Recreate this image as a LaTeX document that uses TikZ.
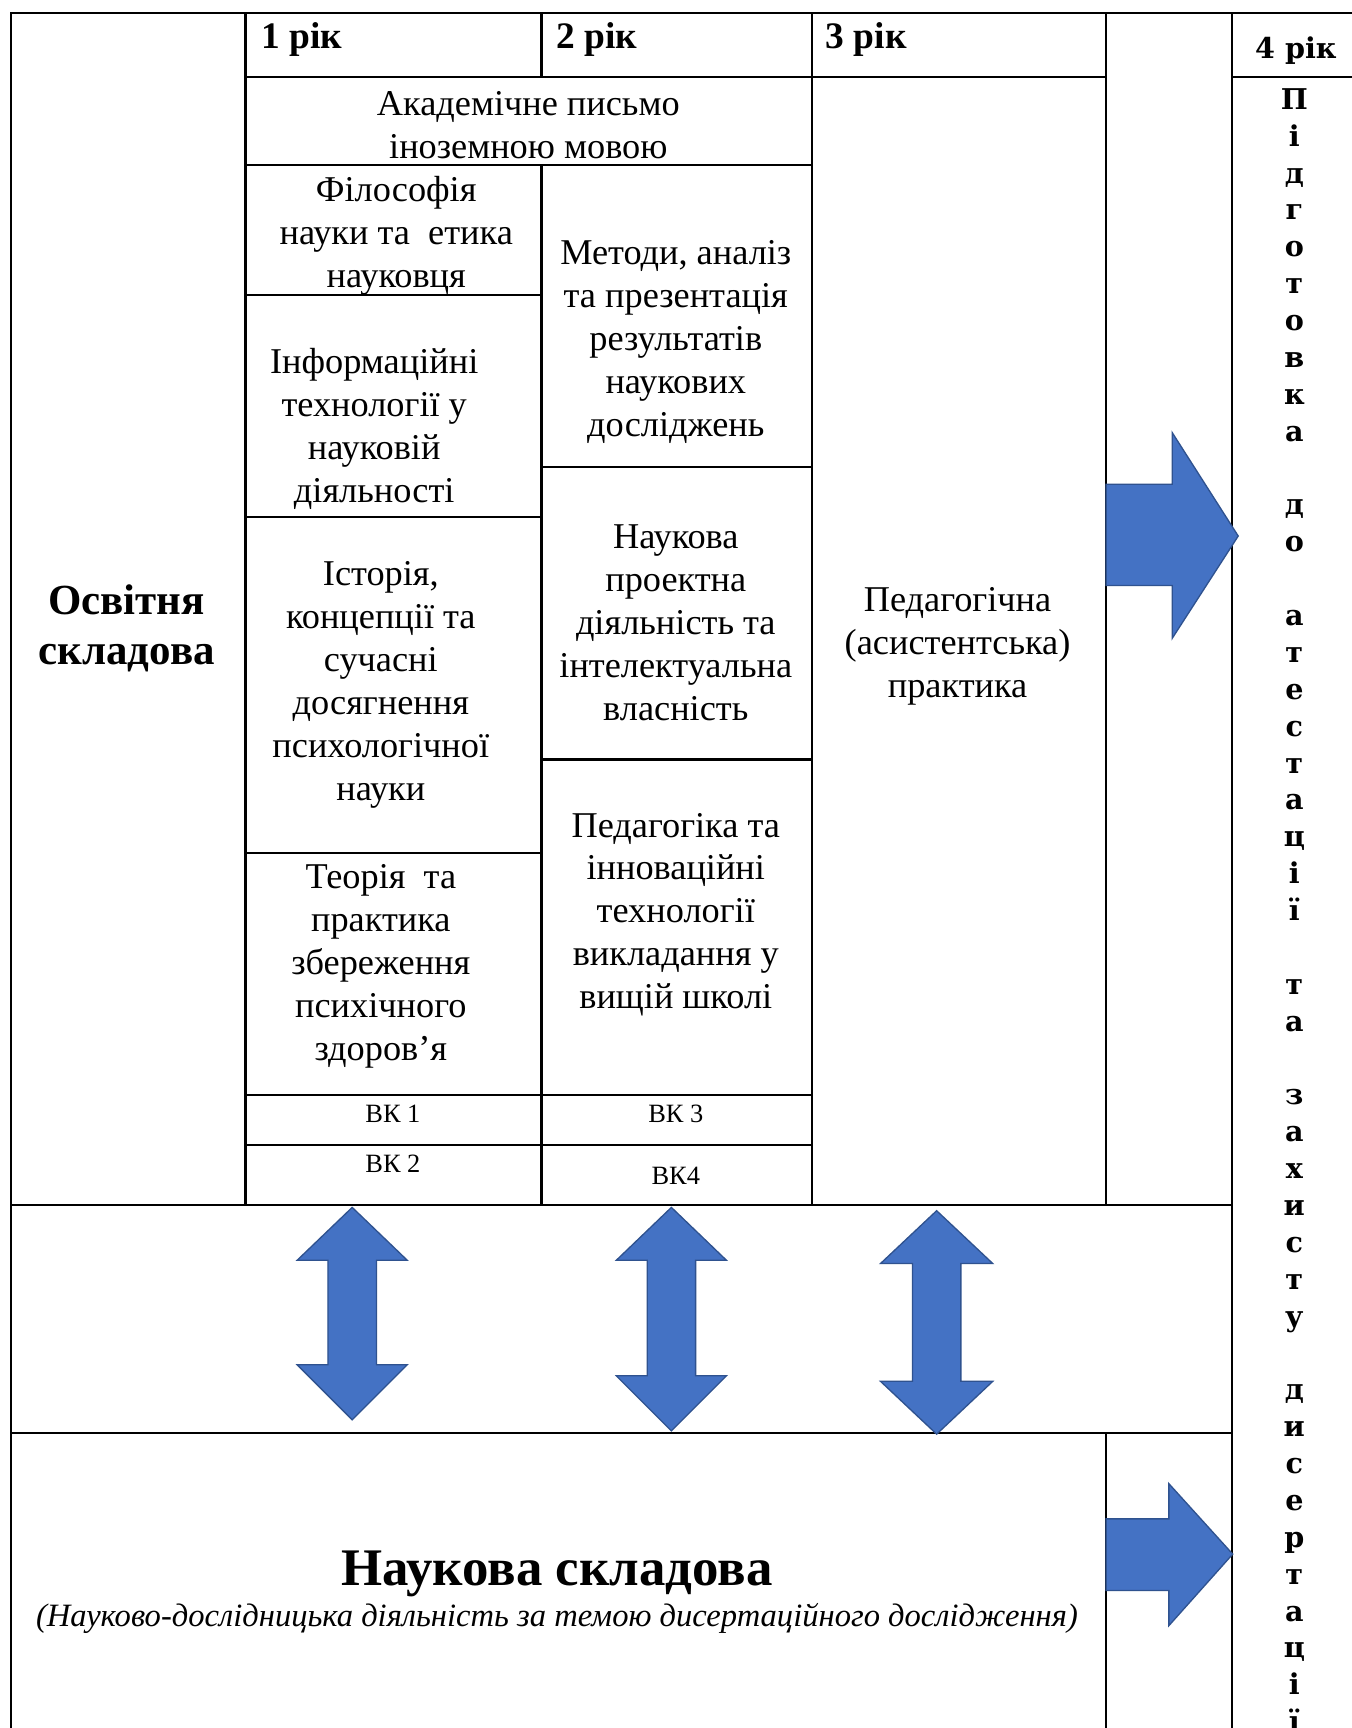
\documentclass[tikz,border=0pt]{standalone}
\usepackage{fontspec}
\setmainfont{Liberation Serif}
\newfontfamily\wideserif{DejaVu Serif}
\usetikzlibrary{positioning}
\definecolor{arrowblue}{RGB}{68,114,196}
\definecolor{arrowedge}{RGB}{47,82,143}

\begin{document}
\begin{tikzpicture}[x=0.5pt, y=-0.5pt,
    grid/.style={line width=1pt},
    cell/.style={align=center, inner sep=0pt, font=\fontsize{16.5}{19.5}\selectfont},
    yearlbl/.style={anchor=base west, inner sep=0pt, font=\fontsize{17}{20}\selectfont\bfseries},
    vk/.style={inner sep=0pt, font=\fontsize{12}{14}\selectfont},
    bigarrow/.style={fill=arrowblue, draw=arrowedge, line width=0.6pt}]
    \fill[white] (0,0) rectangle (1228,1570);
    \useasboundingbox (0,0) rectangle (1228,1570);

    % frame and the long horizontal lines
    \draw[grid] (10,1570) -- (10,12) -- (1228,12);
    \draw[grid] (10,1095) -- (1119,1095);
    \draw[grid] (10,1302) -- (1119,1302);
    % columns
    \draw[grid] (223,12) -- (223,1095);
    \draw[grid] (492,12) -- (492,70);
    \draw[grid] (492,150) -- (492,1095);
    \draw[grid] (738,12) -- (738,1095);
    \draw[grid] (1005,12) -- (1005,1095);
    \draw[grid] (1005,1302) -- (1005,1570);
    \draw[grid] (1119,12) -- (1119,1570);
    % rows of the course table
    \draw[grid] (223,70) -- (1005,70);
    \draw[grid] (1119,70) -- (1228,70);
    \draw[grid] (223,150) -- (738,150);
    \draw[grid] (223,268) -- (492,268);
    \draw[grid] (223,470) -- (492,470);
    \draw[grid] (223,775) -- (492,775);
    \draw[grid] (492,424) -- (738,424);
    \draw[grid] (492,690) -- (738,690);
    \draw[grid] (223,995) -- (738,995);
    \draw[grid] (223,1040) -- (738,1040);

    % year headers
    \node[yearlbl] (y1) at (237,44) {1 рік};
    \node[yearlbl] (y2) at (505,44) {2 рік};
    \node[yearlbl] (y3) at (750,44) {3 рік};
    \node[yearlbl, font=\fontsize{13}{16}\selectfont\wideserif\bfseries] (y4) at (1140,53) {4 рік};

    % courses
    \node[cell] (acad) at (480,114) {Академічне письмо\\іноземною мовою};
    \node[cell] (filos) at (360,214) {Філософія\\науки та\ \ етика\\науковця};
    \node[cell] (inform) at (340,390) {Інформаційні\\технології у\\науковій\\діяльності};
    \node[cell] (istor) at (346,622) {Історія,\\концепції та\\сучасні\\досягнення\\психологічної\\науки};
    \node[cell] (teor) at (346,878) {Теорія\ \ та\\практика\\збереження\\психічного\\здоров’я};
    \node[cell] (metod) at (614,311) {Методи, аналіз\\та презентація\\результатів\\наукових\\досліджень};
    \node[cell] (proekt) at (614,566) {Наукова\\проектна\\діяльність та\\інтелектуальна\\власність};
    \node[cell] (pedag) at (614,831) {Педагогіка та\\інноваційні\\технології\\викладання у\\вищій школі};
    \node[cell] (prakt) at (870,587) {Педагогічна\\(асистентська)\\практика};
    \node[vk] (vk1) at (357,1012) {ВК 1};
    \node[vk] (vk2) at (357,1057) {ВК 2};
    \node[vk] (vk3) at (614,1012) {ВК 3};
    \node[vk] (vk4) at (614,1068) {ВК4};

    % the two parts
    \node[cell, font=\fontsize{19.5}{22.5}\selectfont\bfseries] (osvit) at (115,571) {Освітня\\складова};
    \node[inner sep=0pt, font=\fontsize{24}{28}\selectfont\bfseries] (nauk) at (506,1430) {Наукова складова};
    \node[inner sep=0pt, font=\fontsize{14.8}{18}\selectfont\itshape] (naukdesc) at (506,1470)
        {(Науково-дослідницька діяльність за темою дисертаційного дослідження)};

    % 4th year, letters one under another
    \node[anchor=north, inner sep=0pt, align=center, font=\fontsize{13}{16.75}\selectfont\wideserif\bfseries] (attest) at (1176,80)
        {П\\і\\д\\г\\о\\т\\о\\в\\к\\а\\~\\д\\о\\~\\а\\т\\е\\с\\т\\а\\ц\\і\\ї\\~\\т\\а\\~\\з\\а\\х\\и\\с\\т\\у\\~\\д\\и\\с\\е\\р\\т\\а\\ц\\і\\ї};

    % block arrows
    \draw[bigarrow] (1005,440) -- (1065,440) -- (1065,393) -- (1125,487) -- (1065,580) -- (1065,532) -- (1005,532) -- cycle;
    \draw[bigarrow] (1005,1380) -- (1062,1380) -- (1062,1348) -- (1120,1412) -- (1062,1477) -- (1062,1445) -- (1005,1445) -- cycle;
    \draw[bigarrow] (320,1097) -- (370,1145) -- (342,1145) -- (342,1240) -- (370,1240) -- (320,1290)
        -- (270,1240) -- (298,1240) -- (298,1145) -- (270,1145) -- cycle;
    \draw[bigarrow] (610,1097) -- (660,1145) -- (632,1145) -- (632,1250) -- (660,1250) -- (610,1300)
        -- (560,1250) -- (588,1250) -- (588,1145) -- (560,1145) -- cycle;
    \draw[bigarrow] (851,1100) -- (902,1148) -- (873,1148) -- (873,1255) -- (902,1255) -- (851,1303)
        -- (800,1255) -- (829,1255) -- (829,1148) -- (800,1148) -- cycle;
\end{tikzpicture}
\end{document}
